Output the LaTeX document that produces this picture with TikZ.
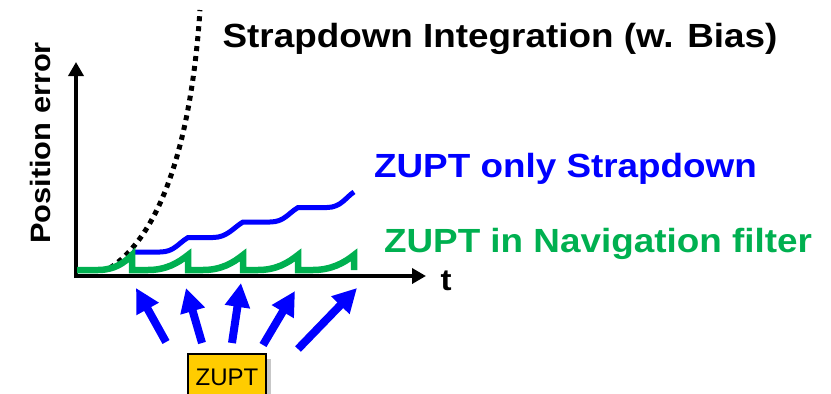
\documentclass[tikz,border=0pt]{standalone}
\usepackage{fontspec}
\setmainfont{Liberation Sans}
\newfontfamily\widesans[FakeStretch=1.1]{Liberation Sans}
\usetikzlibrary{arrows.meta,shadows}
\definecolor{zblue}{RGB}{0,0,255}
\definecolor{zgreen}{RGB}{0,176,80}
\definecolor{zyellow}{RGB}{255,204,0}

\begin{document}
\begin{tikzpicture}[x=1pt,y=-1pt,
  axis/.style={line width=4pt, black, -{Triangle[length=14pt,width=15pt]}},
  driftcurve/.style={line width=5pt, black, dash pattern=on 5pt off 5pt},
  strapcurve/.style={line width=5pt, zblue},
  filtercurve/.style={line width=6.5pt, zgreen},
  zuptarrow/.style={line width=8pt, zblue, -{Triangle[length=24pt,width=24pt]}},
  biglabel/.style={font=\widesans\bfseries\fontsize{33.5}{40}\selectfont, inner sep=0pt, anchor=base},
  zuptbox/.style={draw=black, line width=1.5pt, fill=zyellow, minimum width=78pt,
    minimum height=46pt, inner sep=0pt, font=\fontsize{24}{29}\selectfont,
    drop shadow={shadow xshift=5pt, shadow yshift=-5pt, fill=black!22, opacity=1}}]
\useasboundingbox (0,0) rectangle (831,394);
\clip (0,0) rectangle (831,394);

% free growth of the position error with plain strapdown integration
\draw[driftcurve] (110,268) .. controls (160,235) and (191,145) .. (200,10);

% axes
\coordinate (o) at (76,276);
\coordinate (ybot) at (76,278);
\coordinate (ytop) at (76,62);
\coordinate (xleft) at (74,276);
\coordinate (xright) at (426,276);
\draw[axis] (ybot) -- (ytop);
\draw[axis] (xleft) -- (xright);

% ZUPT applied only to the strapdown solution: staircase growth
\draw[strapcurve] (132,252) -- (160,252)
  .. controls (174,252) and (178,243.5) .. (188,237.5) -- (213,237.5)
  .. controls (227,237.5) and (233,228) .. (243,222) -- (270,222)
  .. controls (284,222) and (288,213.5) .. (298,207.5) -- (327,207.5)
  .. controls (341,207.5) and (346,197) .. (354,192);

% ZUPT inside the navigation filter: error reset at every update
\draw[filtercurve] (77,270) -- (98,270)
  .. controls (114,270) and (124,263) .. (132,255) -- (132,270) -- (148,270)
  .. controls (166,270) and (178,263) .. (188,255) -- (188,270) -- (203,270)
  .. controls (221,270) and (233,263) .. (243,255) -- (243,270) -- (258,270)
  .. controls (276,270) and (288,263) .. (298,255) -- (298,270) -- (313,270)
  .. controls (331,270) and (344,263) .. (354,255) -- (354,270);

% ZUPT events
\coordinate (s1) at (166,342); \coordinate (e1) at (136,288);
\coordinate (s2) at (202,343); \coordinate (e2) at (186,288);
\coordinate (s3) at (232,343); \coordinate (e3) at (241,283);
\coordinate (s4) at (263,345); \coordinate (e4) at (295,291);
\coordinate (s5) at (298,349); \coordinate (e5) at (357,288);
\foreach \i in {1,...,5} \draw[zuptarrow] (s\i) -- (e\i);

\node[zuptbox] (zupt) at (227,377) {ZUPT};

% labels
\node[biglabel] (title) at (500,47) {Strapdown Integration (w. Bias)};
\node[biglabel, text=zblue] (lblue) at (565.5,177) {ZUPT only Strapdown};
\node[biglabel, text=zgreen] (lgreen) at (598,252) {ZUPT in Navigation filter};
\node[font=\widesans\bfseries\fontsize{30}{36}\selectfont, inner sep=0pt, anchor=base] (tlab) at (446,290) {t};
\node[font=\widesans\bfseries\fontsize{28}{34}\selectfont, inner sep=0pt, anchor=base, rotate=90] (ylab) at (50,143) {Position error};
\end{tikzpicture}
\end{document}
